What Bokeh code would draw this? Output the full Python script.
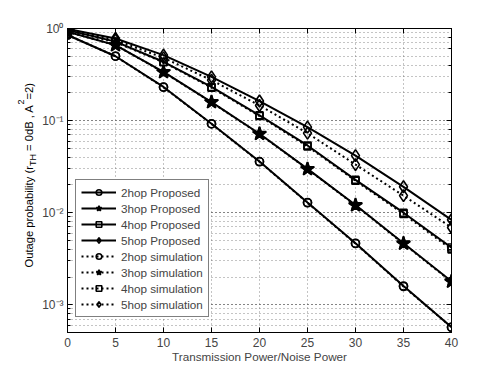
import math
from bokeh.plotting import figure
from bokeh.layouts import row
from bokeh.core.properties import value
from bokeh.models import (LogAxis, LinearAxis, Legend, LegendItem,
                          ColumnDataSource, CustomJSTickFormatter, FixedTicker, Range1d)
from bokeh.embed import file_html
from bokeh.resources import INLINE

# ---------------- data ----------------
snr = [0, 5, 10, 15, 20, 25, 30, 35, 40]
prop_2hop = [0.85, 0.50, 0.232, 0.0925, 0.0359, 0.0129, 0.00466, 0.0016, 0.00057]
prop_3hop = [0.92, 0.66, 0.338, 0.159, 0.072, 0.0299, 0.0121, 0.00465, 0.0018]
prop_4hop = [0.96, 0.72, 0.435, 0.232, 0.114, 0.0537, 0.0227, 0.0100, 0.00418]
prop_5hop = [0.99, 0.78, 0.514, 0.298, 0.163, 0.0849, 0.0417, 0.0191, 0.00837]
sim_2hop = [0.85, 0.50, 0.230, 0.092, 0.0357, 0.0128, 0.00462, 0.00158, 0.00057]
sim_3hop = [0.92, 0.66, 0.335, 0.158, 0.0715, 0.0297, 0.0120, 0.0046, 0.00178]
sim_4hop = [0.96, 0.71, 0.43, 0.228, 0.112, 0.0525, 0.0222, 0.0097, 0.0040]
sim_5hop = [0.98, 0.75, 0.48, 0.275, 0.146, 0.073, 0.0333, 0.0153, 0.0069]

prop_labels = ["2hop Proposed", "3hop Proposed", "4hop Proposed", "5hop Proposed"]
sim_labels = ["2hop simulation", "3hop simulation", "4hop simulation", "5hop simulation"]
x_ticks = [0, 5, 10, 15, 20, 25, 30, 35, 40]
y_tick_exps = [0, -1, -2, -3]
y_tick_labels = ["10\u2070", "10\u207b\u00b9", "10\u207b\u00b2", "10\u207b\u00b3"]
x_label = "Transmission Power/Noise Power"
# y label pieces: (text, role) role: main / sub / sup
y_label_pieces = [("Outage probability (r", "main"), ("TH", "sub"),
                  (" = 0dB , A", "main"), ("2", "sup"), ("=2)", "main")]

FONT = "Liberation Sans"
SIDE_W = 39
W, H = 498, 375
BT, BB = 28, 43            # top / bottom borders of both figures
Y_LO, Y_HI = 5e-4, 1.0

# ---------------- main plot ----------------
p = figure(width=W - SIDE_W, height=H, y_axis_type="log",
           x_range=Range1d(0, 40), y_range=Range1d(Y_LO, Y_HI),
           output_backend="svg", toolbar_location=None,
           min_border_left=65 - SIDE_W, min_border_right=47, min_border_top=BT, min_border_bottom=BB)
p.background_fill_color = "white"
p.border_fill_color = "white"
p.outline_line_color = "black"
p.outline_line_width = 1

xa = p.xaxis[0]
xa.ticker = FixedTicker(ticks=x_ticks)
xa.axis_label = x_label
xa.axis_label_text_font = FONT
xa.axis_label_text_font_size = "11.7px"
xa.axis_label_text_font_style = "normal"
xa.axis_label_standoff = 0
xa.major_label_text_font = FONT
xa.major_label_text_font_size = "12px"
xa.major_label_standoff = 5
xa.major_tick_in = 5
xa.major_tick_out = 0
xa.minor_tick_line_color = None
xa.axis_line_color = "black"

ya = p.yaxis[0]
ya.formatter = CustomJSTickFormatter(
    args=dict(exps=y_tick_exps, labels=y_tick_labels),
    code="const i = exps.indexOf(Math.round(Math.log10(tick))); return i >= 0 ? labels[i] : '';")
ya.major_label_text_font = FONT
ya.major_label_text_font_size = "12px"
ya.major_label_standoff = 4
ya.major_tick_in = 5
ya.major_tick_out = 0
ya.minor_tick_in = 3
ya.minor_tick_out = 0
ya.axis_line_color = "black"

top = LinearAxis(ticker=FixedTicker(ticks=x_ticks), formatter=CustomJSTickFormatter(code="return ''"),
                 major_tick_in=5, major_tick_out=0, minor_tick_line_color=None,
                 axis_line_color="black", major_label_standoff=0)
p.add_layout(top, "above")
right = LogAxis(formatter=CustomJSTickFormatter(code="return ''"),
                major_tick_in=5, major_tick_out=0, minor_tick_in=3, minor_tick_out=0,
                axis_line_color="black", major_label_standoff=0)
p.add_layout(right, "right")

for g in (p.xgrid, p.ygrid):
    g.grid_line_color = "#555555"
    g.grid_line_dash = "1 3"
    g.grid_line_alpha = 0.7
p.ygrid.minor_grid_line_color = "#555555"
p.ygrid.minor_grid_line_dash = "1 3"
p.ygrid.minor_grid_line_alpha = 0.7

markers = [("circle", 8, None), ("star", 14, "black"), ("square", 7, None), ("diamond", 12, None)]
props = [prop_2hop, prop_3hop, prop_4hop, prop_5hop]
sims = [sim_2hop, sim_3hop, sim_4hop, sim_5hop]

items = []
for lab, ys, (mk, sz, fc) in zip(prop_labels, props, markers):
    src = ColumnDataSource(dict(x=snr, y=ys))
    ln = p.line("x", "y", source=src, line_color="black", line_width=2)
    sc = p.scatter("x", "y", source=src, marker=mk, size=sz, line_color="black",
                   line_width=1.6, fill_color=fc)
    items.append(LegendItem(label=lab, renderers=[ln, sc]))
for lab, ys, (mk, sz, fc) in zip(sim_labels, sims, markers):
    src = ColumnDataSource(dict(x=snr, y=ys))
    ln = p.line("x", "y", source=src, line_color="black", line_width=2, line_dash="2 3")
    sc = p.scatter("x", "y", source=src, marker=mk, size=sz, line_color="black",
                   line_width=1.6, fill_color=fc)
    items.append(LegendItem(label=lab, renderers=[ln, sc]))

legend = Legend(items=items, location=(8, 15), label_text_font=FONT,
                label_text_font_size="11.7px", glyph_width=35, glyph_height=14,
                label_height=14, spacing=2, padding=5, margin=0, label_standoff=5,
                border_line_color="black", border_line_width=1,
                background_fill_color="white", background_fill_alpha=1)
p.add_layout(legend)

# ---------------- side panel holding the rotated y label ----------------
# same vertical geometry and y range as the main plot
side = figure(width=SIDE_W, height=H, y_axis_type="log",
              x_range=Range1d(0, SIDE_W), y_range=p.y_range,
              output_backend="svg", toolbar_location=None,
              x_axis_location=None, y_axis_location=None,
              min_border_left=0, min_border_right=0, min_border_top=BT, min_border_bottom=BB)
side.outline_line_color = None
side.grid.visible = False
side.background_fill_color = "white"
side.border_fill_color = "white"

AW = {'O': 778, 'u': 556, 't': 278, 'a': 556, 'g': 556, 'e': 556, ' ': 278, 'p': 556,
      'r': 333, 'o': 556, 'b': 556, 'i': 222, 'l': 222, 'y': 500, '(': 333, 'T': 611,
      'H': 722, '=': 584, '0': 556, 'd': 556, 'B': 667, ',': 278, 'A': 667, '2': 556, ')': 333}


def tw(s, size):
    return sum(AW.get(c, 556) for c in s) * size / 1000.0


frame_h = H - BT - BB
lo, hi = math.log10(Y_LO), math.log10(Y_HI)


def px_to_data(page_y):
    # vertical pixel (from top of canvas) -> value on the shared log axis
    return 10 ** (lo + (H - BB - page_y) / frame_h * (hi - lo))


role_style = {"main": (11.2, 0.0), "sub": (9.0, 4.0), "sup": (9.0, -8.5)}
col_x = 28.5            # centre of main text column
start = 267.0           # canvas-pixel position of the label's lower end
for txt, role in y_label_pieces:
    size, dx = role_style[role]
    stripped = txt.lstrip(" ")
    lead = tw(txt[:len(txt) - len(stripped)], size)
    side.text(x=[col_x + dx], y=[px_to_data(start - lead)], text=[stripped], angle=math.pi / 2,
              text_align="left", text_baseline="middle", text_color="black",
              text_font=value(FONT), text_font_size=value(f"{size}px"))
    start -= tw(txt, size)

layout = row(side, p, spacing=0)
open("out.html", "w").write(file_html(layout, INLINE))
